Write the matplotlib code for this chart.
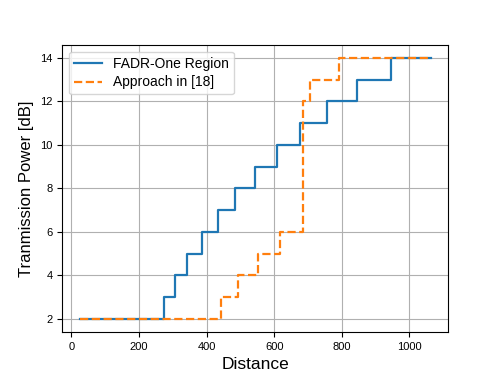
import numpy as np
import matplotlib
matplotlib.use('Agg')
import matplotlib.pyplot as plt

plt.rcParams['font.family'] = ['Liberation Sans', 'DejaVu Sans']

# FADR-One Region: step transition distances and power levels
fadr_x = [25, 275, 308, 343, 388, 433, 484, 542, 607, 676, 756, 845, 946, 1063]
fadr_y = [2, 3, 4, 5, 6, 7, 8, 9, 10, 11, 12, 13, 14, 14]

# Approach in [18]
ref_x = [25, 442, 493, 551, 617, 685, 705, 791, 1063]
ref_y = [2, 3, 4, 5, 6, 12, 13, 14, 14]

fig, ax = plt.subplots(1, 1, figsize=(4.98, 3.73), dpi=100)

ax.plot(fadr_x, fadr_y, drawstyle='steps-post', color='#1f77b4', lw=1.6,
        label='FADR-One Region')
ax.plot(ref_x, ref_y, drawstyle='steps-post', color='#ff7f0e', lw=1.6,
        ls='--', label='Approach in [18]')

ax.grid(True)
ax.set_xticks([0, 200, 400, 600, 800, 1000])
ax.set_yticks([2, 4, 6, 8, 10, 12, 14])
ax.tick_params(labelsize=8)
ax.set_xlabel('Distance', fontsize=12.5)
ax.set_ylabel('Tranmission Power [dB]', fontsize=12)
ax.legend(loc='upper left', fontsize=10, labelspacing=0.35, borderpad=0.35)

fig.savefig('out.png', dpi=100)
plt.close()
